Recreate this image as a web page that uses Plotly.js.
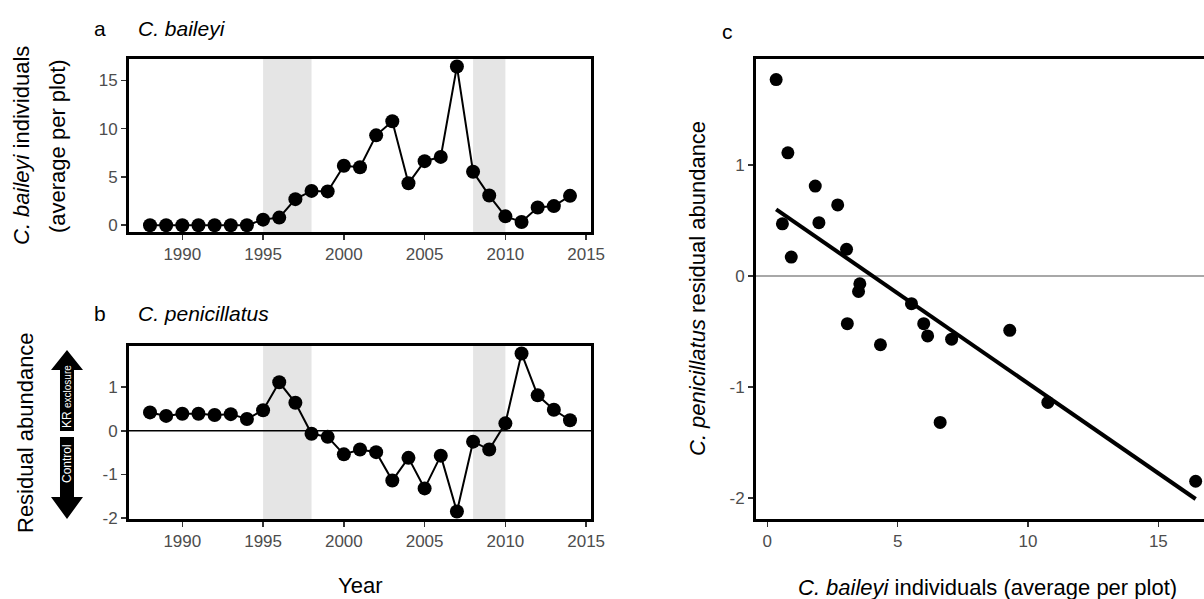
<!DOCTYPE html>
<html><head><meta charset="utf-8">
<script src="https://cdn.plot.ly/plotly-3.0.1.min.js"></script>
<style>html,body{margin:0;padding:0;background:#fff}</style>
</head><body><div id="chart" style="width:1204px;height:599px"></div>
<script>
// ---- data ----
const years = [1988,1989,1990,1991,1992,1993,1994,1995,1996,1997,1998,1999,2000,2001,2002,2003,2004,2005,2006,2007,2008,2009,2010,2011,2012,2013,2014];
const baileyiAbundance = [0,0,0,0,0,0,0,0.58,0.79,2.7,3.55,3.5,6.15,6.0,9.3,10.76,4.34,6.63,7.07,16.43,5.53,3.07,0.92,0.34,1.84,1.98,3.04];
const penicillatusResidual = [0.42,0.34,0.39,0.39,0.36,0.38,0.27,0.47,1.11,0.64,-0.07,-0.14,-0.54,-0.43,-0.49,-1.14,-0.62,-1.32,-0.57,-1.85,-0.25,-0.43,0.17,1.77,0.81,0.48,0.24];
const shadedPeriods = [[1995,1998],[2008,2010]];
const yearTicks = [1990,1995,2000,2005,2010,2015];
const baileyiTicks = [0,5,10,15];
const residTicks = [-2,-1,0,1];
const residTickLabels = ['-2','-1','0','1'];
const scatterXTicks = [0,5,10,15];
const scatterYTicks = [-2,-1,0,1];
const scatterYTickLabels = ['-2','-1','0','1'];
const scatterStartYear = 1995;
// fitted line
const fitLineX = [0.34,16.43];
const fitLineY = [0.60,-2.01];

// panel c data derived from the series
const i0 = years.indexOf(scatterStartYear);
const cx = baileyiAbundance.slice(i0);
const cy = penicillatusResidual.slice(i0);

// ---- layout helpers ----
const W=1204,H=599;
const px = v=>v/W, py = v=>1-v/H;
const FONT = 'Liberation Sans, Arial, sans-serif';
const tickfont = {family:FONT,size:17,color:'#4d4d4d'};
const axBase = {showline:true,linecolor:'#000',linewidth:3,ticks:'outside',ticklen:5,tickwidth:1.5,tickcolor:'#333',
  showgrid:false,zeroline:false,tickfont:tickfont,fixedrange:true};

const traces = [
  {x:years,y:baileyiAbundance,xaxis:'x',yaxis:'y',mode:'lines+markers',line:{color:'#000',width:2},marker:{size:14,color:'#000'},cliponaxis:false,hoverinfo:'skip'},
  {x:years,y:penicillatusResidual,xaxis:'x2',yaxis:'y2',mode:'lines+markers',line:{color:'#000',width:2},marker:{size:14,color:'#000'},cliponaxis:false,hoverinfo:'skip'},
  {x:cx,y:cy,xaxis:'x3',yaxis:'y3',mode:'markers',marker:{size:13,color:'#000'},cliponaxis:true,hoverinfo:'skip'},
  {x:fitLineX,y:fitLineY,xaxis:'x3',yaxis:'y3',mode:'lines',line:{color:'#000',width:4},hoverinfo:'skip'}
];

const shapes = [];
shadedPeriods.forEach(p=>{
  [['x','y domain'],['x2','y2 domain']].forEach(r=>{
    shapes.push({type:'rect',xref:r[0],yref:r[1],x0:p[0],x1:p[1],y0:0,y1:1,fillcolor:'#e5e5e5',line:{width:0},layer:'below'});
  });
});
shapes.push({type:'line',xref:'x2 domain',yref:'y2',x0:0,x1:1,y0:0,y1:0,line:{color:'#000',width:1.5},layer:'below'});
shapes.push({type:'line',xref:'x3 domain',yref:'y3',x0:0,x1:1,y0:0,y1:0,line:{color:'#a8a8a8',width:2},layer:'below'});
function pathOf(pts){return 'M'+pts.map(p=>px(p[0]).toFixed(5)+','+py(p[1]).toFixed(5)).join(' L')+' Z';}
shapes.push({type:'path',xref:'paper',yref:'paper',fillcolor:'#000',line:{width:0},
  path:pathOf([[60,431],[60,370],[51,370],[67,350],[83,370],[74,370],[74,431]])});
shapes.push({type:'path',xref:'paper',yref:'paper',fillcolor:'#000',line:{width:0},
  path:pathOf([[60,437],[60,497],[51,497],[67,519],[83,497],[74,497],[74,437]])});

function ann(x,y,text,opts){return Object.assign({xref:'paper',yref:'paper',x:px(x),y:py(y),text:text,showarrow:false,
  xanchor:'center',yanchor:'middle',font:{family:FONT,size:22,color:'#000'}},opts||{});}
const annotations = [
  ann(100,28,'a',{font:{family:FONT,size:21,color:'#000'}}),
  ann(136,28,'<i>C. baileyi</i>',{xanchor:'left',font:{family:FONT,size:21,color:'#000'}}),
  ann(100,313,'b',{font:{family:FONT,size:21,color:'#000'}}),
  ann(136,313,'<i>C. penicillatus</i>',{xanchor:'left',font:{family:FONT,size:21,color:'#000'}}),
  ann(727,31,'c',{font:{family:FONT,size:21,color:'#000'}}),
  ann(21,146,'<i>C. baileyi</i> individuals',{textangle:-90}),
  ann(57,146,'(average per plot)',{textangle:-90}),
  ann(25,433,'Residual abundance',{textangle:-90}),
  ann(360,585,'Year'),
  ann(987,587,'<i>C. baileyi</i> individuals (average per plot)'),
  ann(697,289,'<i>C. penicillatus</i> residual abundance',{textangle:-90}),
  ann(67,397,'KR <span style="font-size:10px">exclosure</span>',{textangle:-90,font:{family:FONT,size:12,color:'#fff'}}),
  ann(67,464,'Control',{textangle:-90,font:{family:FONT,size:12,color:'#fff'}})
];

const layout = {
  width:W,height:H,margin:{l:0,r:0,t:0,b:0},paper_bgcolor:'#fff',plot_bgcolor:'rgba(0,0,0,0)',showlegend:false,
  xaxis:Object.assign({},axBase,{domain:[px(129),px(591)],range:[1986.7,2015.3],anchor:'y',tickvals:yearTicks,mirror:true}),
  yaxis:Object.assign({},axBase,{domain:[py(232),py(59)],range:[-0.7,17.2],anchor:'x',tickvals:baileyiTicks,mirror:true}),
  xaxis2:Object.assign({},axBase,{domain:[px(129),px(591)],range:[1986.7,2015.3],anchor:'y2',tickvals:yearTicks,mirror:true}),
  yaxis2:Object.assign({},axBase,{domain:[py(519),py(346)],range:[-2.02,1.94],anchor:'x2',tickmode:'array',tickvals:residTicks,ticktext:residTickLabels,mirror:true}),
  xaxis3:Object.assign({},axBase,{domain:[px(756),1],range:[-0.433,16.75],anchor:'y3',tickvals:scatterXTicks,mirror:true}),
  yaxis3:Object.assign({},axBase,{domain:[py(519),py(59)],range:[-2.19,1.955],anchor:'x3',tickmode:'array',tickvals:scatterYTicks,ticktext:scatterYTickLabels,mirror:false}),
  shapes:shapes,annotations:annotations
};
Plotly.newPlot('chart',traces,layout,{staticPlot:true,displayModeBar:false});
</script></body></html>
